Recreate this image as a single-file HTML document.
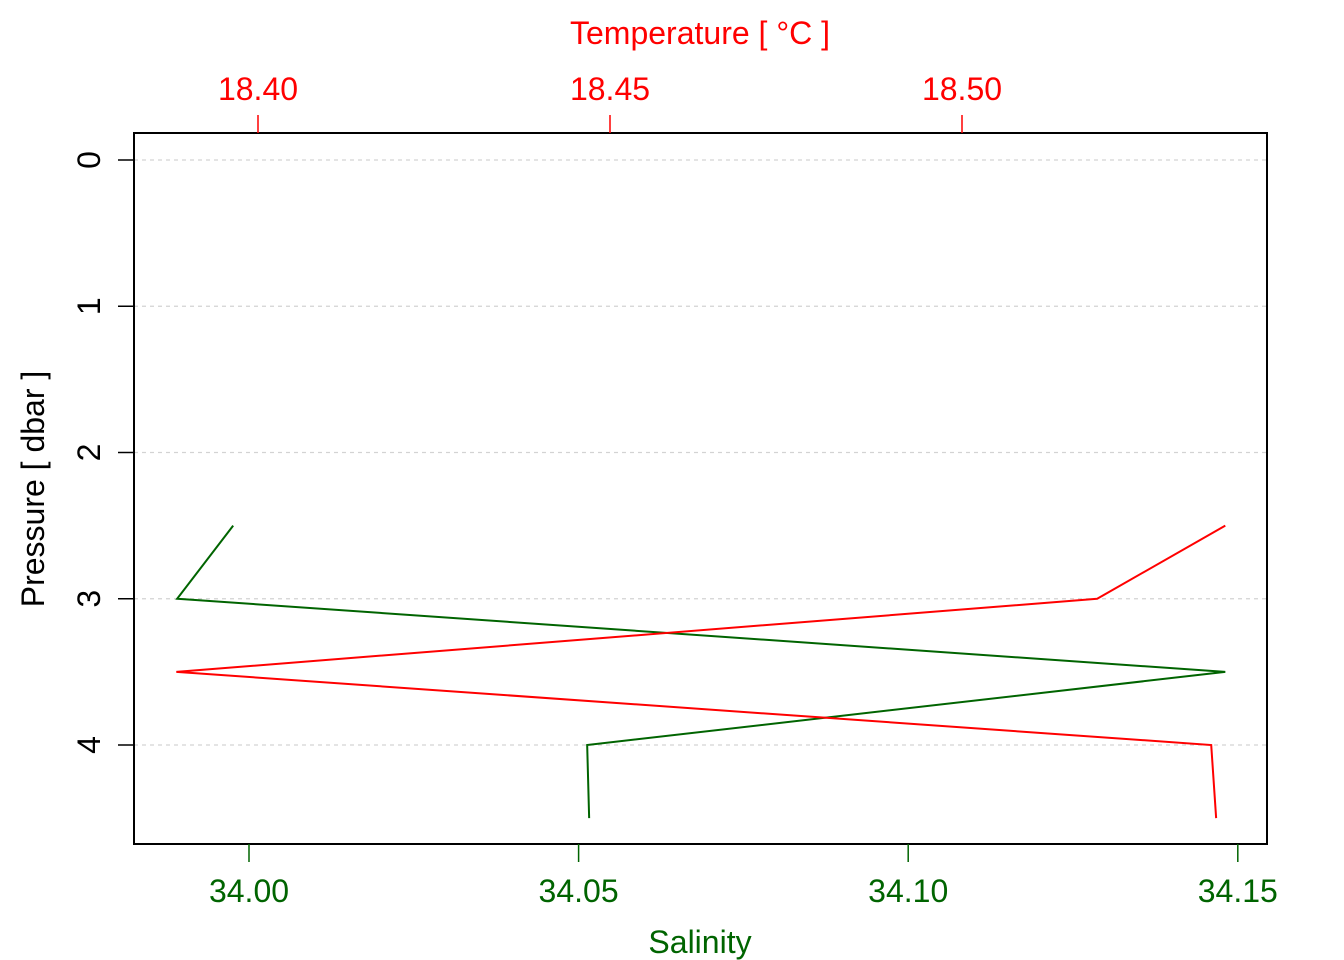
<!DOCTYPE html>
<html><head><meta charset="utf-8"><style>
html,body{margin:0;padding:0;background:#fff}
svg{display:block;font-family:"Liberation Sans",Arial,sans-serif}
</style></head><body>
<svg id="chart" width="1344" height="960" viewBox="0 0 1344 960" xmlns="http://www.w3.org/2000/svg"></svg>
<script>
const pressure = [2.5, 3.0, 3.5, 4.0, 4.5];
const salinity = [33.9976, 33.9891, 34.1481, 34.0513, 34.0516];
const temperature = [18.5374, 18.5192, 18.3884, 18.5354, 18.5361];
const pressureTicks = [0, 1, 2, 3, 4];
const salinityTicks = ["34.00", "34.05", "34.10", "34.15"];
const temperatureTicks = ["18.40", "18.45", "18.50"];

const svg = document.getElementById('chart');
const NS = 'http://www.w3.org/2000/svg';
const box = {l:134, r:1267, t:133, b:844};
const FS = 32;
const yP = p => 160 + p * 146.25;
const xS = s => 249 + (s - 34.0) * 6592;
const xT = t => 258 + (t - 18.40) * 7040;
function mk(tag, attrs, text){
  const e = document.createElementNS(NS, tag);
  for (const k in attrs) e.setAttribute(k, attrs[k]);
  if (text !== undefined) e.textContent = text;
  svg.appendChild(e);
  return e;
}
pressureTicks.forEach(p => {
  const g = mk('line', {x1:box.l, x2:box.r, y1:yP(p), y2:yP(p), stroke:'#d3d3d3', 'stroke-width':1.3, 'stroke-dasharray':'4,4'});
  
  
});
const fr = mk('rect', {x:box.l, y:box.t, width:box.r-box.l, height:box.b-box.t, fill:'none', stroke:'#000', 'stroke-width':2});


pressureTicks.forEach(p => {
  const t = mk('line', {x1:box.l-16, x2:box.l, y1:yP(p), y2:yP(p), stroke:'#000', 'stroke-width':1.5});
  
  
  const lb = mk('text', {x:0, y:0, 'font-size':FS, 'text-anchor':'middle', transform:`translate(100,${yP(p)}) rotate(-90)`}, String(p));
  
  
});
salinityTicks.forEach(s => {
  const x = xS(parseFloat(s));
  const t = mk('line', {x1:x, x2:x, y1:box.b, y2:box.b+18, stroke:'#006400', 'stroke-width':1.5});
  
  
  const lb = mk('text', {x:x, y:902, 'font-size':FS, 'text-anchor':'middle', fill:'#006400'}, s);
  
  
});
temperatureTicks.forEach(s => {
  const x = xT(parseFloat(s));
  const t = mk('line', {x1:x, x2:x, y1:box.t-18, y2:box.t, stroke:'#ff0000', 'stroke-width':1.5});
  
  
  const lb = mk('text', {x:x, y:100, 'font-size':FS, 'text-anchor':'middle', fill:'#ff0000'}, s);
  
  
});
let a = mk('text', {x:700, y:44, 'font-size':FS, 'text-anchor':'middle', fill:'#ff0000'}, 'Temperature [ °C ]');


a = mk('text', {x:700, y:953, 'font-size':FS, 'text-anchor':'middle', fill:'#006400'}, 'Salinity');


a = mk('text', {x:0, y:0, 'font-size':FS, 'text-anchor':'middle', transform:'translate(44,489) rotate(-90)'}, 'Pressure [ dbar ]');


const sPts = pressure.map((p,i) => xS(salinity[i]) + ',' + yP(p)).join(' ');
const sl = mk('polyline', {points:sPts, fill:'none', stroke:'#006400', 'stroke-width':2});


const tPts = pressure.map((p,i) => xT(temperature[i]) + ',' + yP(p)).join(' ');
const tl = mk('polyline', {points:tPts, fill:'none', stroke:'#ff0000', 'stroke-width':2});


</script>
</body></html>
